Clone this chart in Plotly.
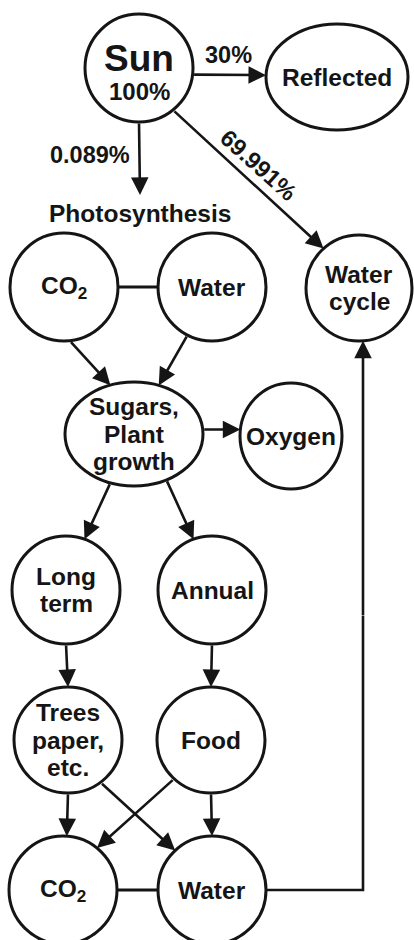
import math
import plotly.graph_objects as go

W, H = 414, 940

# ---- diagram data -------------------------------------------------------
node_ids = ["sun", "reflected", "water_cycle", "photo", "co2_top", "water_top",
            "sugars", "oxygen", "long_term", "annual", "trees", "food",
            "co2_bot", "water_bot"]
node_labels = [["Sun", "100%"], ["Reflected"], ["Water", "cycle"], ["Photosynthesis"],
               ["CO<sub>2</sub>"], ["Water"], ["Sugars,", "Plant", "growth"],
               ["Oxygen"], ["Long", "term"], ["Annual"], ["Trees", "paper,", "etc."],
               ["Food"], ["CO<sub>2</sub>"], ["Water"]]
node_outline = [True, True, True, False, True, True, True, True, True, True, True,
                True, True, True]
node_cx = [139, 337, 359, 140, 64, 212, 134, 291, 66, 212, 68, 211, 63, 212]
node_cy = [68, 77, 288, 213, 287, 287, 434, 436, 590, 590, 740, 740, 890, 890]
node_rx = [54, 71, 53, 90, 54, 54, 69, 51, 54, 54, 54, 54, 54, 54]
node_ry = [54, 53, 53, 18, 54, 54, 52, 53, 54, 54, 53, 53, 54, 54]

# edges: source, target, angle on source boundary, angle on target boundary, arrow?
edge_src = ["sun", "sun", "sun", "co2_top", "co2_top", "water_top", "sugars",
            "sugars", "sugars", "long_term", "annual", "trees", "trees", "food",
            "food", "co2_bot"]
edge_dst = ["reflected", "photo", "water_cycle", "water_top", "sugars", "sugars",
            "oxygen", "long_term", "annual", "trees", "food", "co2_bot",
            "water_bot", "co2_bot", "water_bot", "water_bot"]
edge_src_deg = [7, 90, 51, 0, 84, 117, -5, 110, 62, 90, 90, 90, 53, 133, 90, 0]
edge_dst_deg = [182, 270, 228, 180, 250, 291, 187, 290, 250, 270, 270, 274, 227,
                309, 270, 180]
edge_arrow = [True, True, True, False, True, True, True, True, True, True, True,
              True, True, True, True, False]

# edge labels
flow_labels = ["30%", "0.089%", "69.991%"]
flow_label_x = [228, 90, 258]
flow_label_y = [55, 155, 165]
flow_label_angle = [0, 0, 42]

# return path: Water (bottom) -> Water cycle
loop_src, loop_dst = "water_bot", "water_cycle"
loop_corner_x = 363
loop_dst_deg = 85

# ---- styles -------------------------------------------------------------
INK = "#151515"
FONT = "Liberation Sans, Arial, sans-serif"
LABEL_SIZE = 24.5
FLOW_SIZE = 23.5
LINE_H = 27.5
ARROW = dict(arrowhead=2, arrowsize=1.35, arrowwidth=2.6, arrowcolor=INK, standoff=0)


def pt(node, deg):
    i = node_ids.index(node)
    t = math.radians(deg)
    return (node_cx[i] + node_rx[i] * math.cos(t), node_cy[i] + node_ry[i] * math.sin(t))


fig = go.Figure()
fig.add_trace(go.Scatter(x=[0, W], y=[0, H], mode="markers",
                         marker=dict(opacity=0), hoverinfo="skip", showlegend=False))

shapes = []
annotations = []

# nodes
for i, nid in enumerate(node_ids):
    if node_outline[i]:
        shapes.append(dict(type="circle", xref="x", yref="y",
                           x0=node_cx[i] - node_rx[i], x1=node_cx[i] + node_rx[i],
                           y0=node_cy[i] - node_ry[i], y1=node_cy[i] + node_ry[i],
                           line=dict(color=INK, width=3), fillcolor="white",
                           layer="below"))
    lines = node_labels[i]
    if nid == "sun":
        ys = [node_cy[i] - 10, node_cy[i] + 23.5]
        sizes = [37, 24]
    else:
        n = len(lines)
        ys = [node_cy[i] + (k - (n - 1) / 2) * LINE_H for k in range(n)]
        sizes = [LABEL_SIZE] * n
    for txt, yy, fs in zip(lines, ys, sizes):
        annotations.append(dict(x=node_cx[i], y=yy, xref="x", yref="y", text=txt,
                                showarrow=False, xanchor="center", yanchor="middle",
                                font=dict(family=FONT, size=fs, color=INK,
                                          weight="bold")))

# edges
for s, d, sd, dd, arr in zip(edge_src, edge_dst, edge_src_deg, edge_dst_deg, edge_arrow):
    x0, y0 = pt(s, sd)
    x1, y1 = pt(d, dd)
    if arr:
        annotations.append(dict(x=x1, y=y1, ax=x0, ay=y0, xref="x", yref="y",
                                axref="x", ayref="y", text="", showarrow=True, **ARROW))
    else:
        shapes.append(dict(type="line", xref="x", yref="y", x0=x0, y0=y0, x1=x1, y1=y1,
                           line=dict(color=INK, width=3), layer="below"))

# return loop
lx0, ly0 = pt(loop_src, 0)
lx1, ly1 = pt(loop_dst, loop_dst_deg)
mid_y = (ly0 + ly1) / 2
shapes.append(dict(type="path", xref="x", yref="y",
                   path=f"M {lx0} {ly0} L {loop_corner_x} {ly0} L {loop_corner_x} {mid_y}",
                   line=dict(color=INK, width=2.6), layer="below"))
annotations.append(dict(x=loop_corner_x, y=ly1, ax=loop_corner_x, ay=mid_y + 1,
                        xref="x", yref="y", axref="x", ayref="y", text="",
                        showarrow=True, **ARROW))

# flow labels
for txt, x, y, ang in zip(flow_labels, flow_label_x, flow_label_y, flow_label_angle):
    annotations.append(dict(x=x, y=y, xref="x", yref="y", text=txt, showarrow=False,
                            xanchor="center", yanchor="middle", textangle=ang,
                            font=dict(family=FONT, size=FLOW_SIZE, color=INK,
                                      weight="bold")))

fig.update_layout(
    width=W, height=H, margin=dict(l=0, r=0, t=0, b=0),
    paper_bgcolor="white", plot_bgcolor="white",
    xaxis=dict(range=[0, W], visible=False, fixedrange=True),
    yaxis=dict(range=[H, 0], visible=False, fixedrange=True),
    shapes=shapes, annotations=annotations, showlegend=False,
)

fig.write_html("out.html", config={"displayModeBar": False},
               post_script="document.body.style.margin='0';"
                           "document.body.style.overflow='hidden';")
